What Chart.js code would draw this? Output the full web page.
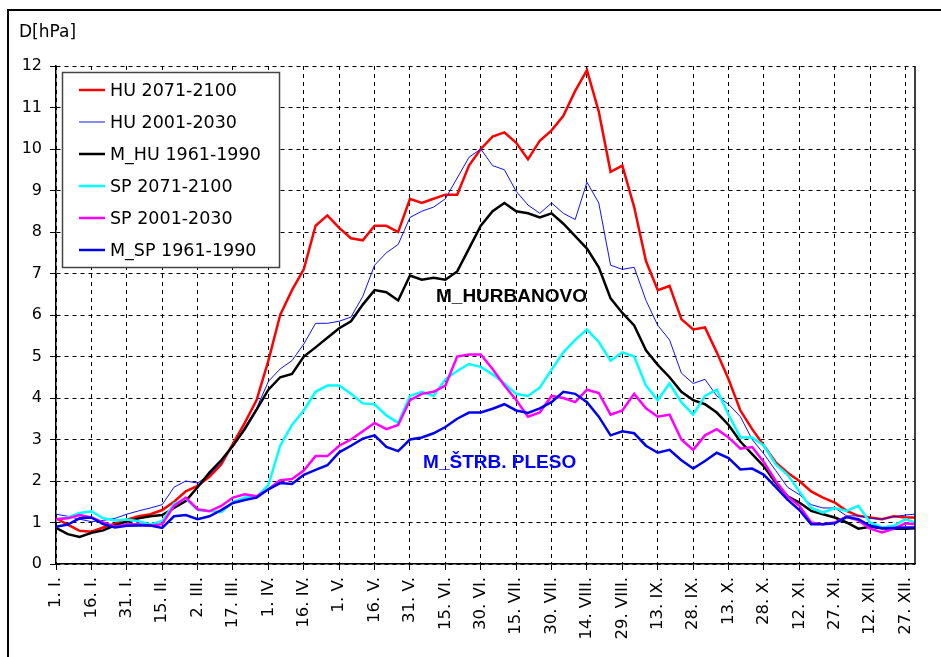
<!DOCTYPE html>
<html>
<head>
<meta charset="utf-8">
<script src="https://cdn.jsdelivr.net/npm/chart.js@4.4.0/dist/chart.umd.min.js"></script>
<style>
  body { margin: 0; background: #fff; }
  #wrap { width: 941px; height: 657px; }
</style>
</head>
<body>
<div id="wrap"><canvas id="graf" width="941" height="657"></canvas></div>
<script>
// Dni v roku (kazdy 5. den) a popisky osi x
const days = [1, 6, 11, 16, 21, 26, 31, 36, 41, 46,
    51, 56, 61, 66, 71, 76, 81, 86, 91, 96,
    101, 106, 111, 116, 121, 126, 131, 136, 141, 146,
    151, 156, 161, 166, 171, 176, 181, 186, 191, 196,
    201, 206, 211, 216, 221, 226, 231, 236, 241, 246,
    251, 256, 261, 266, 271, 276, 281, 286, 291, 296,
    301, 306, 311, 316, 321, 326, 331, 336, 341, 346,
    351, 356, 361, 365];

const tickDays = [1, 16, 31, 46, 61, 76, 91, 106, 121, 136, 151, 166, 181,
    196, 211, 226, 241, 256, 271, 286, 301, 316, 331, 346, 361];
const tickLabels = ['1. I.', '16. I.', '31. I.', '15. II.', '2. III.', '17. III.',
    '1. IV.', '16. IV.', '1. V.', '16. V.', '31. V.', '15. VI.', '30. VI.',
    '15. VII.', '30. VII.', '14. VIII.', '29. VIII.', '13. IX.', '28. IX.',
    '13. X.', '28. X.', '12. XI.', '27. XI.', '12. XII.', '27. XII.'];

const seriesNames = ['HU 2071-2100', 'HU 2001-2030', 'M_HU 1961-1990',
    'SP 2071-2100', 'SP 2001-2030', 'M_SP 1961-1990'];

// D [hPa]
const hu2071 = [1.1, 0.95, 0.8, 0.78, 0.88, 0.97, 1.07, 1.15, 1.2, 1.3,
    1.5, 1.75, 1.88, 2.1, 2.4, 2.9, 3.4, 3.95, 4.9, 6.0,
    6.6, 7.1, 8.15, 8.4, 8.1, 7.85, 7.8, 8.15, 8.15, 8.0,
    8.8, 8.7, 8.8, 8.9, 8.9, 9.6, 10.0, 10.3, 10.4, 10.15,
    9.75, 10.2, 10.45, 10.8, 11.4, 11.9, 10.9, 9.45, 9.6, 8.6,
    7.3, 6.6, 6.7, 5.9, 5.65, 5.7, 5.1, 4.45, 3.7, 3.25,
    2.85, 2.45, 2.2, 2.0, 1.75, 1.6, 1.48, 1.28, 1.16, 1.12,
    1.08, 1.15, 1.12, 1.12];
const hu2001 = [1.2, 1.15, 1.08, 1.02, 1.05, 1.1, 1.2, 1.28, 1.35, 1.43,
    1.85, 2.0, 1.95, 2.15, 2.45, 2.85, 3.3, 3.75, 4.4, 4.7,
    4.9, 5.3, 5.8, 5.8, 5.85, 5.95, 6.45, 7.2, 7.5, 7.7,
    8.35, 8.5, 8.6, 8.8, 9.3, 9.8, 10.0, 9.6, 9.5, 8.98,
    8.65, 8.45, 8.7, 8.45, 8.3, 9.2, 8.7, 7.2, 7.1, 7.15,
    6.35, 5.75, 5.4, 4.6, 4.35, 4.45, 4.05, 3.85, 3.55, 3.0,
    2.65, 2.25, 1.85, 1.67, 1.43, 1.35, 1.35, 1.16, 1.16, 1.1,
    1.08, 1.14, 1.18, 1.2];
const mHu = [0.87, 0.72, 0.65, 0.75, 0.81, 0.93, 1.02, 1.1, 1.15, 1.18,
    1.35, 1.52, 1.85, 2.2, 2.5, 2.85, 3.25, 3.72, 4.2, 4.5,
    4.58, 5.0, 5.22, 5.45, 5.68, 5.85, 6.25, 6.6, 6.55, 6.35,
    6.95, 6.85, 6.9, 6.85, 7.05, 7.6, 8.15, 8.5, 8.7, 8.5,
    8.45, 8.35, 8.45, 8.2, 7.9, 7.6, 7.15, 6.4, 6.05, 5.75,
    5.15, 4.8, 4.5, 4.15, 3.95, 3.85, 3.65, 3.35, 2.95, 2.65,
    2.35, 1.95, 1.63, 1.48, 1.28, 1.2, 1.12, 1.0, 0.85, 0.9,
    0.86, 0.85, 0.85, 0.86];
const sp2071 = [1.07, 1.12, 1.23, 1.27, 1.1, 1.05, 1.07, 1.03, 0.95, 1.04,
    1.45, 1.58, 1.3, 1.28, 1.25, 1.5, 1.6, 1.62, 1.9, 2.85,
    3.35, 3.7, 4.15, 4.3, 4.3, 4.1, 3.87, 3.85, 3.58, 3.4,
    4.05, 4.15, 4.05, 4.45, 4.65, 4.82, 4.75, 4.57, 4.35, 4.1,
    4.05, 4.25, 4.68, 5.1, 5.4, 5.65, 5.35, 4.9, 5.1, 5.0,
    4.3, 3.95, 4.35, 3.9, 3.6, 4.05, 4.2, 3.6, 3.05, 3.05,
    2.85, 2.4, 2.15, 1.75, 1.35, 1.24, 1.35, 1.28, 1.4, 1.0,
    0.88, 0.92, 1.08, 1.0];
const sp2001 = [1.08, 1.1, 1.18, 1.12, 1.0, 0.9, 0.96, 0.96, 0.92, 0.96,
    1.4, 1.6, 1.32, 1.27, 1.4, 1.6, 1.68, 1.63, 1.8, 2.02,
    2.05, 2.25, 2.6, 2.6, 2.85, 3.0, 3.2, 3.4, 3.25, 3.35,
    3.95, 4.1, 4.15, 4.3, 5.0, 5.05, 5.05, 4.7, 4.3, 3.95,
    3.55, 3.65, 4.05, 4.0, 3.9, 4.2, 4.12, 3.6, 3.7, 4.1,
    3.75, 3.55, 3.6, 3.0, 2.75, 3.1, 3.25, 3.05, 2.78, 2.82,
    2.45, 2.0, 1.63, 1.4, 1.0, 0.96, 1.0, 1.14, 1.05, 0.85,
    0.76, 0.85, 0.98, 0.96];
const mSp = [0.9, 0.95, 1.1, 1.12, 0.96, 0.88, 0.92, 0.93, 0.93, 0.87,
    1.15, 1.18, 1.08, 1.15, 1.3, 1.47, 1.54, 1.6, 1.8, 1.95,
    1.93, 2.15, 2.27, 2.38, 2.69, 2.85, 3.02, 3.1, 2.82, 2.72,
    3.0, 3.05, 3.15, 3.3, 3.5, 3.65, 3.65, 3.74, 3.85, 3.7,
    3.64, 3.75, 3.9, 4.15, 4.1, 3.9, 3.55, 3.1, 3.2, 3.15,
    2.85, 2.68, 2.75, 2.5, 2.3, 2.48, 2.68, 2.55, 2.28, 2.3,
    2.15, 1.85, 1.55, 1.3, 0.96, 0.96, 0.98, 1.13, 1.08, 0.92,
    0.86, 0.87, 0.88, 0.88];

const allSeries = [hu2071, hu2001, mHu, sp2071, sp2001, mSp];
const colors = ['#ff0000', '#1010ff', '#000000', '#00ffff', '#ff00ff', '#0000ee'];
const widths = [2.5, 1, 2.5, 2.5, 2.5, 2.5];

// Popisky v grafe (pozicia v jednotkach osi)
const labelsInPlot = [
    { text: 'M_HURBANOVO', day: 194, value: 6.45, color: '#000000' },
    { text: 'M_ŠTRB. PLESO', day: 189, value: 2.45, color: '#0000ff' }
];

const fontName = '"Liberation Sans", Arial, sans-serif';
const wideFont = '"DejaVu Sans", Verdana, sans-serif';

function toPoints(values) {
    return values.map((v, i) => ({ x: days[i], y: v }));
}

const datasets = allSeries.map((serie, i) => ({
    label: seriesNames[i],
    data: toPoints(serie),
    borderColor: colors[i],
    backgroundColor: colors[i],
    borderWidth: widths[i],
    pointRadius: 0,
    tension: 0,
    fill: false,
    order: allSeries.length - i
}));

// Kreslenie ramu, legendy a textov
const dekoracia = {
    id: 'dekoracia',
    beforeDraw(chart) {
        const ctx = chart.ctx;
        ctx.save();
        ctx.fillStyle = '#fff';
        ctx.fillRect(0, 0, chart.width, chart.height);
        ctx.restore();
    },
    afterDatasetsDraw(chart) {
        const ctx = chart.ctx;
        const xs = chart.scales.x;
        const ys = chart.scales.y;
        ctx.save();

        // texty v grafe
        ctx.font = 'bold 19px ' + fontName;
        ctx.textAlign = 'center';
        ctx.textBaseline = 'middle';
        labelsInPlot.forEach(l => {
            ctx.fillStyle = l.color;
            ctx.fillText(l.text, xs.getPixelForValue(l.day), ys.getPixelForValue(l.value));
        });

        // legenda
        const lx = 62, ly = 72, lw = 217, lh = 195;
        ctx.fillStyle = '#fff';
        ctx.fillRect(lx, ly, lw, lh);
        ctx.strokeStyle = '#444';
        ctx.lineWidth = 1.5;
        ctx.strokeRect(lx + 0.5, ly + 0.5, lw, lh);
        ctx.font = '17.5px ' + wideFont;
        ctx.textAlign = 'left';
        ctx.textBaseline = 'middle';
        chart.data.datasets.forEach((ds, i) => {
            const y = 90 + i * 32;
            ctx.strokeStyle = ds.borderColor;
            ctx.lineWidth = ds.borderWidth;
            ctx.beginPath();
            ctx.moveTo(79, y);
            ctx.lineTo(105, y);
            ctx.stroke();
            ctx.fillStyle = '#000';
            ctx.fillText(ds.label, 110, y + 1);
        });
        ctx.restore();
    },
    afterDraw(chart) {
        const ctx = chart.ctx;
        const area = chart.chartArea;
        ctx.save();
        ctx.strokeStyle = '#000';
        ctx.lineWidth = 1.5;
        ctx.beginPath();
        ctx.moveTo(area.right, area.top);
        ctx.lineTo(area.right, area.bottom);
        ctx.stroke();

        // vonkajsi ram
        ctx.lineWidth = 2;
        ctx.strokeRect(8, 10, 1000, 800);

        ctx.fillStyle = '#000';
        ctx.font = '17px ' + wideFont;
        ctx.textAlign = 'left';
        ctx.textBaseline = 'middle';
        ctx.fillText('D[hPa]', 19, 33);
        ctx.restore();
    }
};

const ctx = document.getElementById('graf').getContext('2d');

let graf = new Chart(ctx, {
    type: 'line',
    data: { datasets: datasets },
    options: {
        responsive: false,
        animation: false,
        layout: { padding: { top: 66, right: 26, bottom: 0, left: 0 } },
        plugins: {
            legend: { display: false },
            tooltip: { enabled: false }
        },
        scales: {
            x: {
                type: 'linear',
                min: 1,
                max: 365,
                afterBuildTicks: scale => {
                    scale.ticks = tickDays.map(d => ({ value: d }));
                },
                afterFit: scale => { scale.height = 93; },
                ticks: {
                    autoSkip: false,
                    maxRotation: 90,
                    minRotation: 90,
                    padding: 7,
                    color: '#000',
                    font: { family: wideFont, size: 16.5 },
                    callback: (value, index) => tickLabels[index]
                },
                grid: { color: '#000', lineWidth: 1, tickLength: 6 },
                border: { display: true, color: '#000', width: 1.5, dash: [4, 4] }
            },
            y: {
                min: 0,
                max: 12,
                afterFit: scale => { scale.width = 56; },
                ticks: {
                    stepSize: 1,
                    padding: 8,
                    color: '#000',
                    font: { family: wideFont, size: 16 }
                },
                grid: { color: '#000', lineWidth: 1, tickLength: 6 },
                border: { display: true, color: '#000', width: 1.5, dash: [4, 4] }
            }
        }
    },
    plugins: [dekoracia]
});
</script>
</body>
</html>
